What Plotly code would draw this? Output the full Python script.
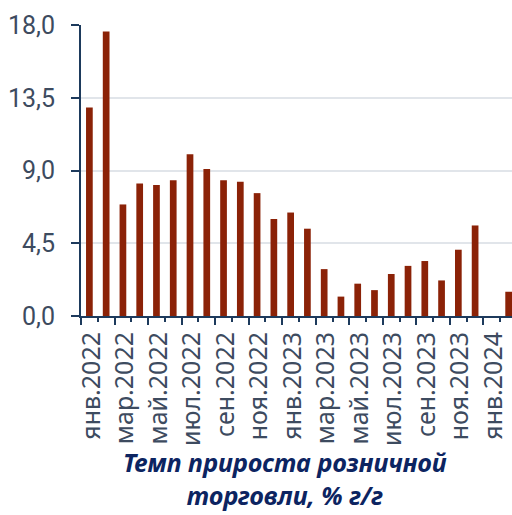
import plotly.graph_objects as go

months = ["янв", "фев", "мар", "апр", "май", "июн", "июл", "авг", "сен", "окт", "ноя", "дек"]
years = [2022, 2023, 2024]
categories = [f"{m}.{y}" for y in years for m in months][:26]
values = [12.9, 17.6, 6.9, 8.2, 8.1, 8.4, 10.0, 9.1, 8.4, 8.3, 7.6, 6.0,
          6.4, 5.4, 2.9, 1.2, 2.0, 1.6, 2.6, 3.1, 3.4, 2.2, 4.1, 5.6,
          None, 1.5]
y_ticks = [0, 4.5, 9.0, 13.5, 18.0]
y_ticktext = ["0,0", "4,5", "9,0", "13,5", "18,0"]
title_text = "Темп прироста розничной<br>торговли, % г/г"

idx = list(range(len(categories)))
label_idx = idx[::2][:13]
label_text = [categories[i] for i in label_idx]
boundary_idx = [i - 0.5 for i in label_idx]

BAR = "#8b2207"
AXIS = "#1d3a5c"
TXT = "#3d4b5f"
FONT = "Noto Sans"

fig = go.Figure()
fig.add_trace(go.Bar(x=idx, y=values, marker=dict(color=BAR, line=dict(width=0)),
                     width=0.4, xaxis="x", yaxis="y"))
# invisible trace to activate the label axis
fig.add_trace(go.Scatter(x=[idx[0]], y=[0], mode="markers", marker=dict(opacity=0),
                         xaxis="x2", yaxis="y", showlegend=False, hoverinfo="skip"))

xr = [-0.5, 25.2]
fig.update_layout(
    width=512, height=515,
    margin=dict(l=81, r=0, t=25, b=199, autoexpand=False),
    paper_bgcolor="white", plot_bgcolor="white",
    showlegend=False,
    font=dict(family=FONT, color=TXT),
    bargap=0.6,
    xaxis=dict(
        range=xr, tickmode="array", tickvals=boundary_idx, ticktext=[""] * len(boundary_idx),
        ticks="outside", ticklen=7, tickwidth=2, tickcolor=AXIS,
        minor=dict(ticks="outside", ticklen=4, tickwidth=2, tickcolor=AXIS,
                   tickmode="linear", tick0=-0.5, dtick=1),
        showline=True, linecolor=AXIS, linewidth=2, showgrid=False, zeroline=False,
        fixedrange=True, automargin=False,
    ),
    xaxis2=dict(
        range=xr, overlaying="x", anchor="y", side="bottom",
        tickmode="array", tickvals=label_idx, ticktext=label_text,
        tickangle=-90, ticks="", showline=False, showgrid=False, zeroline=False,
        ticklabelstandoff=10, ticklabelshift=2,
        tickfont=dict(family=FONT, size=25, color=TXT), automargin=False,
    ),
    yaxis=dict(
        range=[0, 18], tickmode="array", tickvals=y_ticks, ticktext=y_ticktext,
        ticks="outside", ticklen=8, tickwidth=2, tickcolor=AXIS,
        showline=True, linecolor=AXIS, linewidth=2, ticklabelstandoff=11,
        showgrid=True, gridcolor="#e1e5ea", gridwidth=2, zeroline=False,
        tickfont=dict(family="Roboto", size=25, color=TXT), automargin=False,
    ),
    annotations=[dict(
        text=f"<b><i>{title_text}</i></b>", xref="paper", yref="paper",
        x=0.473, y=-0.56, xanchor="center", yanchor="middle", showarrow=False,
        font=dict(family=FONT, size=25, color="#0c2461"),
    )],
)

fig.write_html("out.html",
               config={"displayModeBar": False},
               post_script="document.body.style.margin='0';document.body.style.overflow='hidden';")
